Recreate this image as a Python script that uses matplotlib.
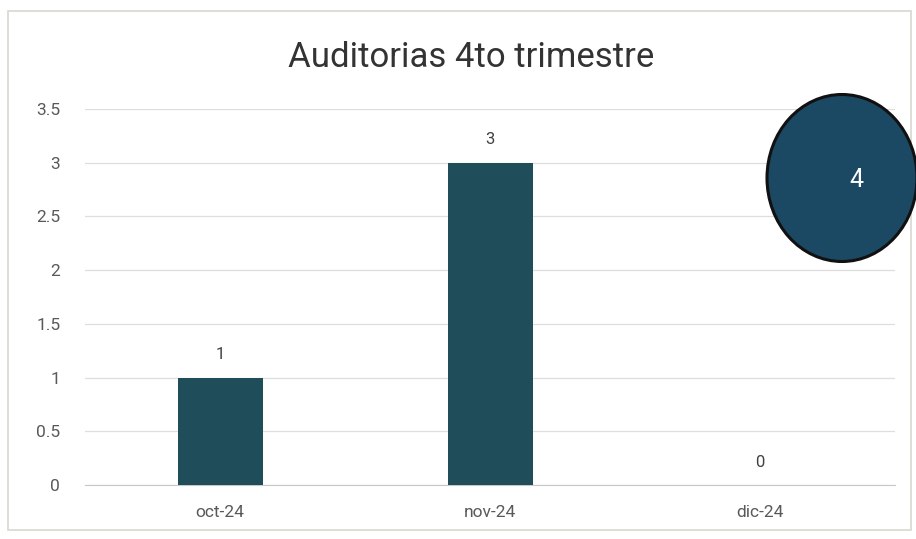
import matplotlib.pyplot as plt
from matplotlib.patches import Ellipse, Rectangle

plt.rcParams['font.family'] = ['Roboto', 'DejaVu Sans']

# data
months = ['oct-24', 'nov-24', 'dic-24']
audits = [1, 3, 0]
total = 4

bar_color = '#1f4d5a'
text_color = '#595959'

fig = plt.figure(figsize=(9.16, 5.39), dpi=100, facecolor='white')
ax = fig.add_axes([0.093, 0.100, 0.884, 0.698])

x = range(len(months))
ax.bar(x, audits, width=0.315, color=bar_color, zorder=3)
for i, v in enumerate(audits):
    ax.annotate(str(v), (i, v), xytext=(0, 11), textcoords='offset points',
                ha='center', va='bottom', fontsize=12, color='#404040')

ax.set_xlim(-0.5, len(months) - 0.5)
ax.set_ylim(0, 3.5)
ax.set_yticks([0, 0.5, 1, 1.5, 2, 2.5, 3, 3.5])
ax.set_yticklabels(['0', '0.5', '1', '1.5', '2', '2.5', '3', '3.5'])
ax.set_xticks(list(x))
ax.set_xticklabels(months)
ax.tick_params(axis='both', labelsize=12.5, labelcolor=text_color, length=0)
ax.tick_params(axis='y', pad=18)
ax.tick_params(axis='x', pad=14)
ax.yaxis.grid(True, color='#dedede', linewidth=0.9, zorder=0)
for side in ['top', 'right', 'left']:
    ax.spines[side].set_visible(False)
ax.spines['bottom'].set_color('#c8c8c8')

fig.text(0.514, 0.893, 'Auditorias 4to trimestre', ha='center', va='center',
         fontsize=25, color='#333333')

# chart border
fig.add_artist(Rectangle((0.009, 0.017), 0.985, 0.963, transform=fig.transFigure,
                         fill=False, edgecolor='#d8d8d0', linewidth=1.2))

# total bubble
fig.add_artist(Ellipse((842 / 916, 1 - 178 / 539), 150 / 916, 167 / 539,
                       transform=fig.transFigure, facecolor='#1b4862',
                       edgecolor='#111111', linewidth=2.2, zorder=5))
fig.text(856 / 916, 1 - 180 / 539, str(total), ha='center', va='center',
         fontsize=18, color='white', zorder=6)

plt.savefig('out.png', dpi=100)
